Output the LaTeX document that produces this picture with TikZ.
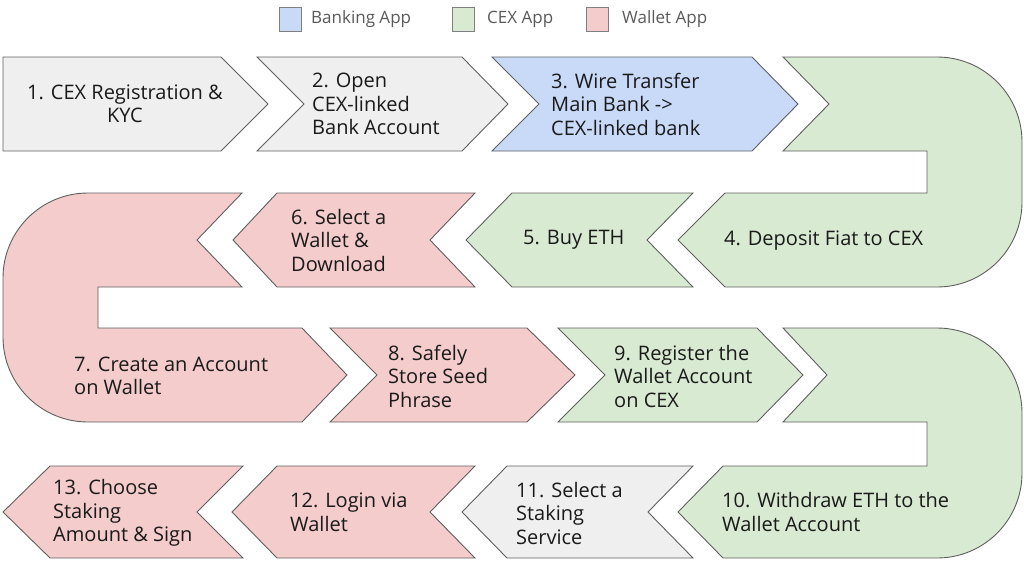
\documentclass[tikz,border=0pt]{standalone}
\usepackage{fontspec}
\setmainfont{Open Sans}
\definecolor{grayf}{HTML}{EFEFEF}
\definecolor{bluef}{HTML}{C9DAF8}
\definecolor{greenf}{HTML}{D9EAD3}
\definecolor{redf}{HTML}{F4CCCC}
\definecolor{edge}{HTML}{5F5F5F}
\definecolor{txt}{HTML}{1A1A1A}
\definecolor{legtxt}{HTML}{595959}
\begin{document}
\begin{tikzpicture}[x=1pt,y=-1pt,
  shp/.style={draw=edge,line width=0.9pt,line join=miter},
  lbl/.style={inner sep=0pt,align=left,anchor=west,text=txt,font=\fontsize{20}{23.5}\selectfont},
  legbox/.style={draw=edge!80,line width=0.8pt},
  legtext/.style={inner sep=0pt,anchor=west,text=legtxt,font=\fontsize{17}{20}\selectfont}]
\useasboundingbox (0,0) rectangle (1024,573);
% legend
\draw[legbox,fill=bluef] (279,7) rectangle (301,31);
\node[legtext] (lgb) at (311,19) {Banking App};
\draw[legbox,fill=greenf] (452,7) rectangle (474,31);
\node[legtext] (lgc) at (487,19) {CEX App};
\draw[legbox,fill=redf] (586,7) rectangle (608,31);
\node[legtext] (lgw) at (622,19) {Wallet App};
% row 1
\draw[shp,fill=grayf] (3,57) -- (221,57) -- (268,104) -- (221,151) -- (3,151) -- cycle;
\draw[shp,fill=grayf] (257,57) -- (462,57) -- (508,104) -- (462,151) -- (257,151) -- (304,104) -- cycle;
\draw[shp,fill=bluef] (492,57) -- (752,57) -- (798,104) -- (752,151) -- (492,151) -- (539,104) -- cycle;
\draw[shp,fill=greenf] (783,57) -- (937,57) .. controls (984,57) and (1022,95) .. (1022,142) -- (1022,202) .. controls (1022,249) and (984,287) .. (937,287) -- (725,287) -- (678,240) -- (725,193) -- (927,193) -- (927,151) -- (783,151) -- (829,104) -- cycle;
% row 2
\draw[shp,fill=greenf] (512,193) -- (693,193) -- (647,240) -- (693,287) -- (512,287) -- (466,240) -- cycle;
\draw[shp,fill=redf] (277,193) -- (475,193) -- (430,240) -- (475,287) -- (277,287) -- (233,240) -- cycle;
\draw[shp,fill=redf] (242,193) -- (88,193) .. controls (41,193) and (3,231) .. (3,278) -- (3,337) .. controls (3,384) and (41,422) .. (88,422) -- (302,422) -- (347,375) -- (302,328) -- (98,328) -- (98,287) -- (242,287) -- (197,240) -- cycle;
% row 3
\draw[shp,fill=redf] (330,328) -- (527,328) -- (575,375) -- (527,422) -- (330,422) -- (377,375) -- cycle;
\draw[shp,fill=greenf] (558,328) -- (757,328) -- (803,375) -- (757,422) -- (558,422) -- (605,375) -- cycle;
\draw[shp,fill=greenf] (783,328) -- (937,328) .. controls (984,328) and (1022,366) .. (1022,413) -- (1022,473) .. controls (1022,520) and (984,558) .. (937,558) -- (723,558) -- (678,512) -- (723,466) -- (927,466) -- (927,422) -- (783,422) -- (827,375) -- cycle;
% row 4
\draw[shp,fill=grayf] (507,466) -- (693,466) -- (648,512) -- (693,558) -- (507,558) -- (462,512) -- cycle;
\draw[shp,fill=redf] (277,466) -- (475,466) -- (430,512) -- (475,558) -- (277,558) -- (232,512) -- cycle;
\draw[shp,fill=redf] (50,466) -- (243,466) -- (197,512) -- (243,558) -- (50,558) -- (3,512) -- cycle;
% labels
\node[lbl,align=center,anchor=center] (t1) at (125,104) {1. CEX Registration \&\\KYC};
\node[lbl] (t2) at (312,104) {2. Open\\CEX-linked\\Bank Account};
\node[lbl] (t3) at (551,104) {3. Wire Transfer\\Main Bank ->\\CEX-linked bank};
\node[lbl] (t4) at (724,241) {4. Deposit Fiat to CEX};
\node[lbl] (t5) at (523,240) {5. Buy ETH};
\node[lbl] (t6) at (291,240) {6. Select a\\Wallet \&\\Download};
\node[lbl] (t7) at (74,376) {7. Create an Account\\on Wallet};
\node[lbl] (t8) at (388,376) {8. Safely\\Store Seed\\Phrase};
\node[lbl] (t9) at (614,376) {9. Register the\\Wallet Account\\on CEX};
\node[lbl] (t10) at (722,512) {10. Withdraw ETH to the\\Wallet Account};
\node[lbl] (t11) at (516,513) {11. Select a\\Staking\\Service};
\node[lbl] (t12) at (290,512) {12. Login via\\Wallet};
\node[lbl] (t13) at (53,513) {13. Choose\\Staking\\Amount \& Sign};
\end{tikzpicture}
\end{document}
